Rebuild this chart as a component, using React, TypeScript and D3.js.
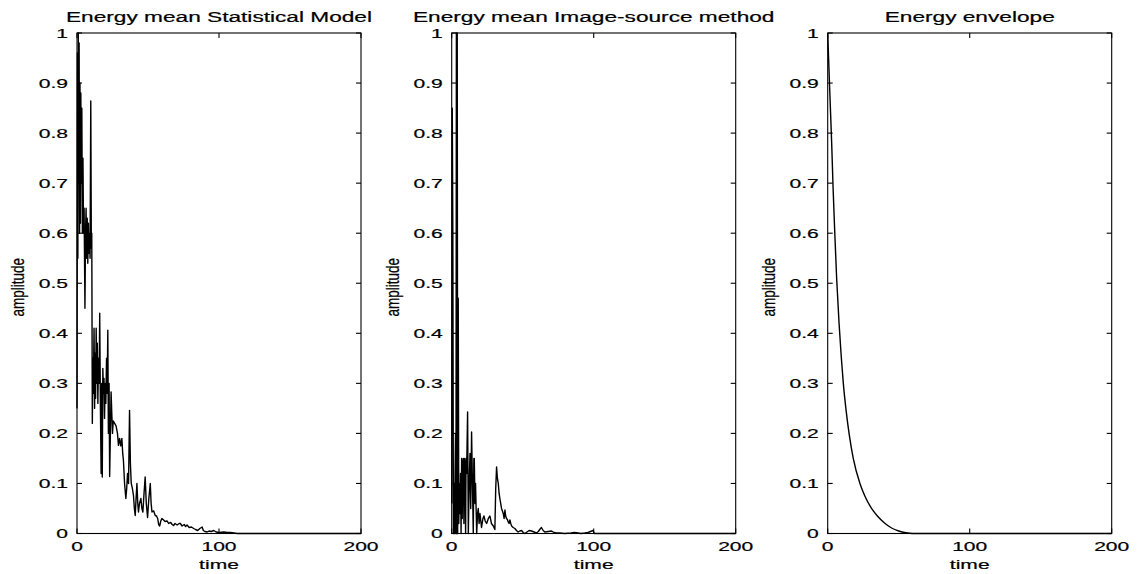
import React from "react";
import * as d3 from "d3";

// ---------- data ----------
const titles = [
  "Energy mean Statistical Model",
  "Energy mean Image-source method",
  "Energy envelope",
];
const xTicks = [0, 100, 200];
const xTickLabels = ["0", "100", "200"];
const yTicks = [0, 0.1, 0.2, 0.3, 0.4, 0.5, 0.6, 0.7, 0.8, 0.9, 1];
const yTickLabels = ["0", "0.1", "0.2", "0.3", "0.4", "0.5", "0.6", "0.7", "0.8", "0.9", "1"];
const xLabel = "time";
const yLabel = "amplitude";

// [time, amplitude]
const statisticalModel: [number, number][] = [
  [0, 0.25], [0.3, 0.96], [0.6, 0.55], [0.9, 1.0], [1.2, 0.7], [1.5, 0.98], [1.8, 0.6],
  [2.1, 0.9], [2.4, 0.62], [2.7, 0.88], [3.0, 0.7], [3.4, 0.85], [3.8, 0.6], [4.2, 0.75],
  [4.6, 0.6], [5.0, 0.65], [5.6, 0.45], [6.0, 0.6], [6.4, 0.65], [6.8, 0.55], [7.2, 0.63],
  [7.6, 0.54], [8.0, 0.62], [8.4, 0.56], [8.8, 0.6], [9.2, 0.55], [9.7, 0.864], [10.1, 0.57],
  [10.4, 0.6], [10.8, 0.22], [11.2, 0.35], [11.5, 0.28], [12.0, 0.41], [12.4, 0.25],
  [12.7, 0.36], [13.1, 0.27], [13.5, 0.41], [13.9, 0.3], [14.3, 0.38], [14.7, 0.26],
  [15.1, 0.35], [15.6, 0.3], [16.0, 0.44], [16.5, 0.25], [17.0, 0.12], [17.4, 0.3],
  [17.8, 0.113], [18.2, 0.33], [18.6, 0.28], [19.0, 0.31], [19.4, 0.23], [19.8, 0.3],
  [20.3, 0.26], [20.8, 0.35], [21.2, 0.28], [21.7, 0.406], [22.1, 0.2], [22.6, 0.3],
  [23.0, 0.114], [23.5, 0.2], [24.0, 0.283], [24.5, 0.24], [25.0, 0.2], [25.5, 0.225],
  [26.5, 0.22], [27.5, 0.215], [28.5, 0.2], [29.2, 0.176], [30.0, 0.19], [30.8, 0.175],
  [31.6, 0.19], [32.2, 0.16], [32.7, 0.146], [33.5, 0.1], [34.4, 0.07], [35.0, 0.09],
  [35.6, 0.12], [36.3, 0.1], [37.0, 0.246], [37.6, 0.14], [38.2, 0.1], [39.0, 0.09],
  [39.8, 0.075], [40.4, 0.05], [41.0, 0.036], [41.6, 0.07], [42.2, 0.1], [42.8, 0.06],
  [43.3, 0.043], [44.0, 0.06], [45.0, 0.07], [45.7, 0.05], [46.4, 0.043], [47.2, 0.08],
  [48.0, 0.113], [48.8, 0.06], [49.7, 0.032], [50.6, 0.07], [51.6, 0.1], [52.2, 0.06],
  [52.8, 0.043], [54.0, 0.045], [55.1, 0.036], [56.0, 0.035], [56.8, 0.03], [57.5, 0.018],
  [58.2, 0.015], [59.0, 0.025], [59.8, 0.03], [61.0, 0.027], [62.0, 0.024], [63.4, 0.025],
  [64.5, 0.02], [66.0, 0.022], [67.0, 0.018], [68.0, 0.016], [69.0, 0.02], [70.5, 0.017],
  [72.0, 0.02], [72.8, 0.02], [74.0, 0.015], [75.5, 0.018], [76.5, 0.014], [77.5, 0.017],
  [79.0, 0.012], [80.5, 0.013], [82.2, 0.01], [83.5, 0.008], [85.0, 0.006], [86.5, 0.01],
  [88.1, 0.013], [89.0, 0.006], [90.0, 0.004], [91.7, 0.003], [93.0, 0.005], [94.5, 0.004],
  [96.3, 0.006], [98.0, 0.003], [100.0, 0.002], [103.4, 0.003], [106.0, 0.002],
  [108.0, 0.002], [110.5, 0.001], [113.0, 0], [200, 0],
];

const imageSource: [number, number][] = [
  [0, 0.06], [0.4, 0.85], [0.8, 0.6], [1.2, 0.0], [1.6, 0.1], [2.0, 0.0], [2.3, 0.1],
  [2.7, 0.2], [3.0, 0.0], [3.3, 1.0], [3.6, 0.0], [3.9, 1.0], [4.2, 0.0], [4.6, 0.47],
  [5.0, 0.02], [5.4, 0.1], [5.8, 0.04], [6.2, 0.12], [6.6, 0.0], [7.0, 0.15], [7.4, 0.03],
  [7.8, 0.14], [8.2, 0.15], [8.6, 0.02], [8.9, 0.15], [9.3, 0.14], [9.8, 0.0], [10.1, 0.15],
  [10.5, 0.12], [11.2, 0.243], [11.7, 0.0], [12.3, 0.1], [12.9, 0.16], [13.4, 0.05],
  [14.0, 0.203], [14.6, 0.1], [15.2, 0.0], [15.6, 0.15], [15.9, 0.15], [16.4, 0.06],
  [16.8, 0.1], [17.6, 0.0], [18.2, 0.04], [18.7, 0.05], [19.3, 0.02], [19.9, 0.04],
  [21.0, 0.012], [22.0, 0.03], [22.7, 0.035], [23.6, 0.025], [24.6, 0.02], [25.8, 0.03],
  [26.9, 0.035], [28.0, 0.02], [29.3, 0.015], [30.4, 0.008], [31.0, 0.09], [31.6, 0.133],
  [32.2, 0.11], [32.8, 0.1], [33.4, 0.08], [33.9, 0.07], [34.5, 0.06], [35.1, 0.05],
  [35.7, 0.045], [36.3, 0.04], [36.9, 0.03], [37.5, 0.047], [38.0, 0.035], [38.6, 0.03],
  [39.2, 0.028], [39.8, 0.023], [40.4, 0.02], [41.0, 0.027], [41.6, 0.02], [42.2, 0.015],
  [43.3, 0.012], [44.5, 0.01], [45.6, 0.006], [46.8, 0.003], [48.0, 0.005], [49.2, 0.006],
  [50.4, 0.002], [51.5, 0.0], [53.0, 0.003], [54.5, 0.006], [56.2, 0.005], [58.0, 0.003],
  [59.7, 0.001], [61.0, 0.004], [62.0, 0.008], [63.2, 0.012], [64.4, 0.006], [65.6, 0.003],
  [68.0, 0.004], [70.3, 0.005], [72.0, 0.002], [73.8, 0.001], [76.0, 0.001], [79.6, 0],
  [84.0, 0.001], [86.6, 0.002], [89.0, 0.001], [91.0, 0], [93.7, 0.001], [96.0, 0.002],
  [99.5, 0.006], [100.5, 0], [200, 0],
];

const envelope: [number, number][] = [
  [0, 1.0], [1.5, 0.88], [2.8, 0.78], [3.8, 0.69], [5.0, 0.6], [6.3, 0.51], [8.0, 0.42],
  [9.5, 0.355], [11.0, 0.3], [13.0, 0.245], [15.2, 0.197], [18.0, 0.15], [22.7, 0.1],
  [26.0, 0.076], [30.0, 0.054], [35.0, 0.035], [40.0, 0.021], [45.0, 0.011],
  [50.0, 0.005], [55.0, 0.0015], [60.0, 0], [200, 0],
];

const series = [statisticalModel, imageSource, envelope];

// ---------- layout ----------
const W = 1141;
const H = 574;
const panelLefts = [77, 451.7, 827.7];
const panelWidth = 284;
const top = 33;
const bottom = 533.5;
const tickLen = 5;
const SX = 1.62; // horizontal stretch of the lettering
const font = "'Liberation Sans', Arial, Helvetica, sans-serif";

function SText({ x, y, children, anchor = "middle", size = 13 }: any) {
  return (
    <text
      transform={`translate(${x},${y}) scale(${SX},1)`}
      textAnchor={anchor}
      fontSize={size}
      fontFamily={font}
      fill="#000"
      stroke="#000"
      strokeWidth={0.2}
    >
      {children}
    </text>
  );
}

function Panel({ idx }: { idx: number }) {
  const left = panelLefts[idx];
  const right = left + panelWidth;
  const x = d3.scaleLinear().domain([0, 200]).range([left, right]);
  const y = d3.scaleLinear().domain([0, 1]).range([bottom, top]);
  const line = d3
    .line<[number, number]>()
    .x((d) => x(d[0]))
    .y((d) => y(d[1]))
    .curve(idx === 2 ? d3.curveMonotoneX : d3.curveLinear);
  const cx = (left + right) / 2;
  return (
    <g>
      <path d={line(series[idx]) || ""} fill="none" stroke="#000" strokeWidth={1.4} strokeLinejoin="round" />
      <rect x={left} y={top} width={panelWidth} height={bottom - top} fill="none" stroke="#000" strokeWidth={1.1} />
      {yTicks.map((t, i) => (
        <g key={"y" + i}>
          <line x1={left} x2={left + tickLen} y1={y(t)} y2={y(t)} stroke="#000" strokeWidth={1.1} />
          <line x1={right} x2={right - tickLen} y1={y(t)} y2={y(t)} stroke="#000" strokeWidth={1.1} />
          <SText x={left - 9} y={y(t) + 4.7} anchor="end">
            {yTickLabels[i]}
          </SText>
        </g>
      ))}
      {xTicks.map((t, i) => (
        <g key={"x" + i}>
          <line x1={x(t)} x2={x(t)} y1={bottom} y2={bottom - tickLen} stroke="#000" strokeWidth={1.1} />
          <line x1={x(t)} x2={x(t)} y1={top} y2={top + tickLen} stroke="#000" strokeWidth={1.1} />
          <SText x={x(t)} y={551}>
            {xTickLabels[i]}
          </SText>
        </g>
      ))}
      <SText x={cx} y={22} size={14}>
        {titles[idx]}
      </SText>
      <SText x={cx} y={569}>
        {xLabel}
      </SText>
      <text
        transform={`translate(${left - 53},${(top + bottom) / 2 + 4}) scale(${SX * 0.85},1) rotate(-90)`}
        textAnchor="middle"
        fontSize={13.5}
        fontFamily={font}
        fill="#000"
        stroke="#000"
        strokeWidth={0.2}
      >
        {yLabel}
      </text>
    </g>
  );
}

export default function App() {
  return (
    <svg
      width={W}
      height={H}
      viewBox={`0 0 ${W} ${H}`}
      style={{ position: "absolute", left: 0, top: 0, background: "#fff", display: "block" }}
    >
      <rect x={0} y={0} width={W} height={H} fill="#fff" />
      {[0, 1, 2].map((i) => (
        <Panel key={i} idx={i} />
      ))}
    </svg>
  );
}
